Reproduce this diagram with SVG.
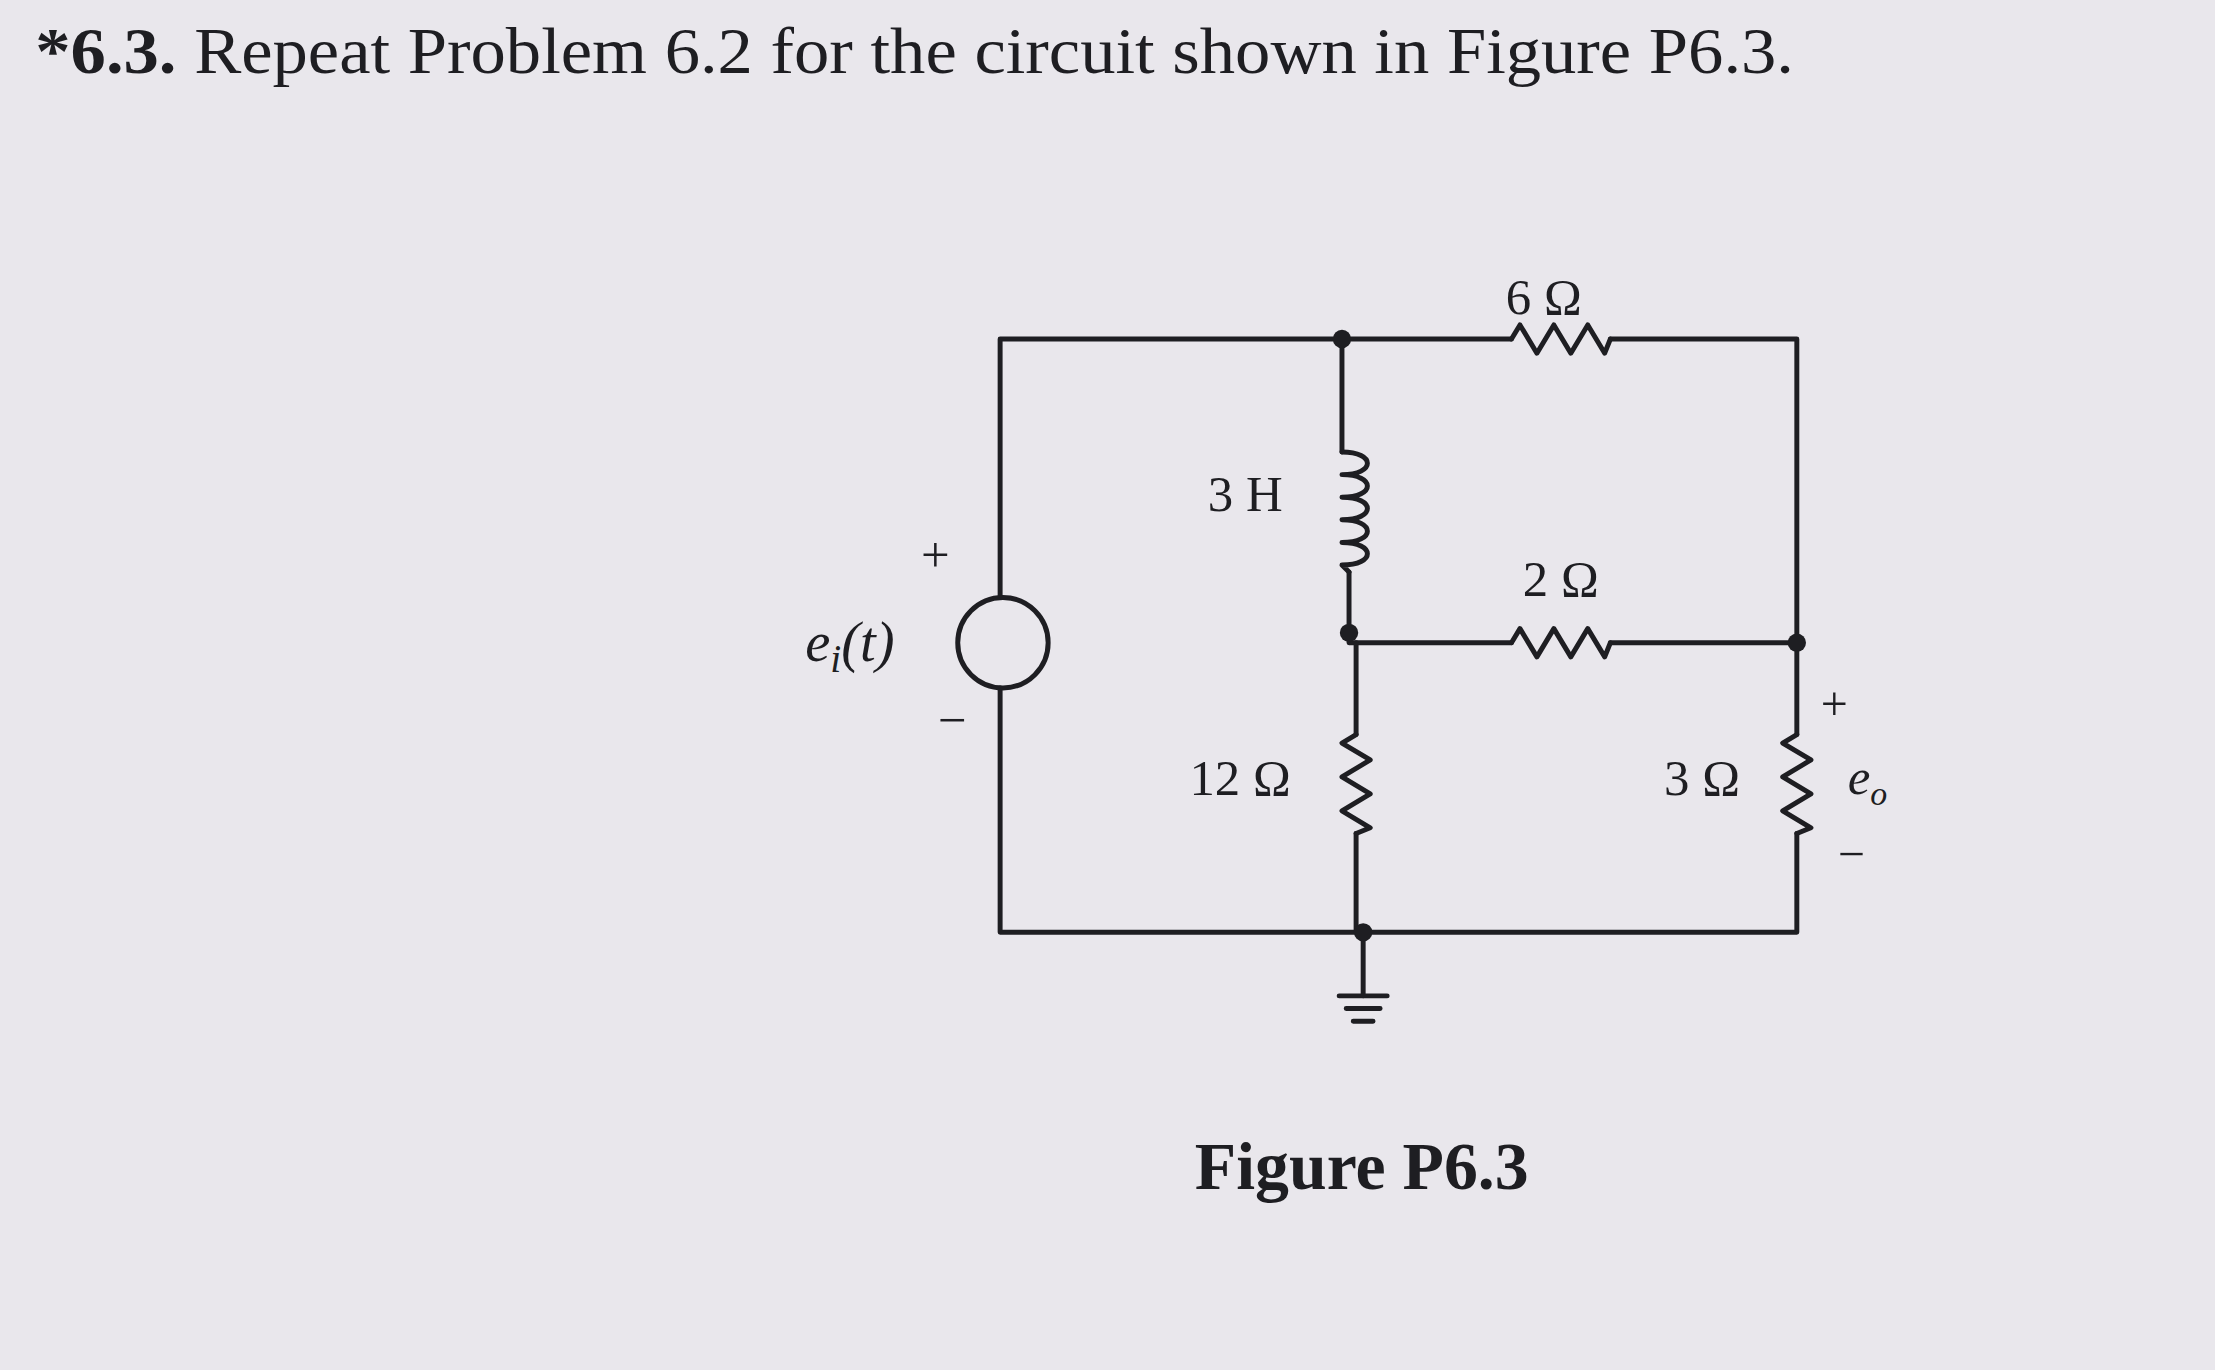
<svg xmlns="http://www.w3.org/2000/svg" width="2215" height="1370" viewBox="0 0 2215 1370">
<style>
.w{fill:none;stroke:#1e1e22;stroke-width:3.5;stroke-linejoin:round;stroke-linecap:round}
.t{font-family:"Liberation Serif",serif;fill:#1e1e22}
.d{fill:#1e1e22}
</style>
<rect width="2215" height="1370" fill="#e9e7ec"/>
<g transform="scale(1.4126)">
<text class="t" x="25" y="52" font-size="46" textLength="1245" lengthAdjust="spacingAndGlyphs"><tspan font-weight="bold">*6.3.</tspan> Repeat Problem 6.2 for the circuit shown in Figure P6.3.</text>
<g id="connectors">
<path class="w" d="M708,240 H1070 M1140,240 H1272 V520 M1272,590 V660 H708 V487 M708,423 V240"/>
<path class="w" d="M950,240 V320 M955,405 V455 H1070 M1140,455 H1272"/>
<path class="w" d="M960,455 V520 M960,590 V660 M965,660 V705"/>
</g>
<g id="source"><circle class="w" cx="710" cy="455" r="32"/>
<text class="t" x="652" y="405" font-size="36">+</text>
<text class="t" x="570" y="468" font-size="40" font-style="italic">e<tspan font-size="28" dy="8">i</tspan><tspan dy="-8">(t)</tspan></text>
<text class="t" x="664" y="522" font-size="36">−</text></g>
<g id="r6"><path class="w" d="M1070,240 l6,-10 l12,20 l12,-20 l12,20 l12,-20 l12,20 l4,-10"/>
<text class="t" x="1066" y="222" font-size="36">6 Ω</text></g>
<g id="l3"><path class="w" d="M950,320 c24,0 24,16 0,16 c24,0 24,16 0,16 c24,0 24,16 0,16 c24,0 24,16 0,16 c24,0 24,16 0,16 L955,405"/>
<text class="t" x="855" y="362" font-size="36">3 H</text></g>
<g id="r2"><path class="w" d="M1070,455 l6,-10 l12,20 l12,-20 l12,20 l12,-20 l12,20 l4,-10"/>
<text class="t" x="1078" y="422" font-size="36">2 Ω</text></g>
<g id="r12"><path class="w" d="M960,520 l-10,6 l20,12 l-20,12 l20,12 l-20,12 l20,12 l-10,4"/>
<text class="t" x="842" y="563" font-size="36">12 Ω</text></g>
<g id="r3"><path class="w" d="M1272,520 l-10,6 l20,12 l-20,12 l20,12 l-20,12 l20,12 l-10,4"/>
<text class="t" x="1178" y="563" font-size="36">3 Ω</text>
<text class="t" x="1289" y="510" font-size="34">+</text>
<text class="t" x="1308" y="562" font-size="36" font-style="italic">e<tspan font-size="24" dy="8">o</tspan></text>
<text class="t" x="1301" y="616" font-size="34">−</text></g>
<g id="nodes"><circle class="d" cx="950" cy="240" r="6.5"/><circle class="d" cx="955" cy="448" r="6.5"/><circle class="d" cx="1272" cy="455" r="6.5"/><circle class="d" cx="965" cy="660" r="6.5"/></g>
<g id="ground"><path class="w" d="M948,705 H982 M953,714 H977 M958,723 H972"/></g>
<text class="t" x="964" y="842" font-size="48" font-weight="bold" text-anchor="middle">Figure P6.3</text>
</g>
</svg>
